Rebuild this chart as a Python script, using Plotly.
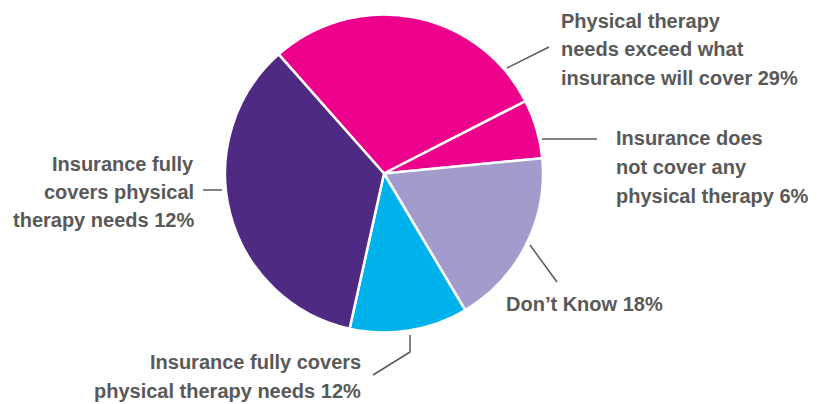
import plotly.graph_objects as go

# Survey responses on insurance coverage of physical therapy
categories = [
    "Physical therapy needs exceed what insurance will cover",
    "Insurance does not cover any physical therapy",
    "Don't Know",
    "Insurance fully covers physical therapy needs (partial)",
    "Insurance fully covers physical therapy needs",
]
values = [29, 6, 18, 12, 35]
colors = ["#EC008C", "#EC008C", "#A29BCB", "#00B2EC", "#4F2A82"]

# label text, one list of lines per slice
label_lines = [
    ["Physical therapy", "needs exceed what", "insurance will cover 29%"],
    ["Insurance does", "not cover any", "physical therapy 6%"],
    ["Don\u2019t Know 18%"],
    ["Insurance fully covers", "physical therapy needs 12%"],
    ["Insurance fully", "covers physical", "therapy needs 12%"],
]

W, H = 827, 404


def px(x):
    return x / W


def py(y):
    return 1 - y / H


fig = go.Figure(
    go.Pie(
        labels=categories,
        values=values,
        sort=False,
        direction="clockwise",
        rotation=-41.5,
        marker=dict(colors=colors, line=dict(color="white", width=2.5)),
        textinfo="none",
        hoverinfo="label+percent",
        showlegend=False,
        domain=dict(x=[px(225), px(543)], y=[py(332.5), py(14.5)]),
    )
)

font = dict(family="Liberation Sans, Arial, sans-serif", size=20, color="#595959")

# label block placement: (x, first line y, line step, xanchor)
placements = [
    (559, 20.5, 28.8, "left"),
    (614, 138, 28.8, "left"),
    (504, 304, 0, "left"),
    (363, 362, 28.5, "right"),
    (196, 163.5, 28, "right"),
]

annotations = []
for lines, (x, y0, step, xa) in zip(label_lines, placements):
    for i, line in enumerate(lines):
        annotations.append(dict(
            text="<b>" + line + "</b>",
            x=px(x), y=py(y0 + i * step), xref="paper", yref="paper",
            xanchor=xa, yanchor="middle", align=xa,
            showarrow=False, font=font,
        ))

# leader lines from slices to their labels
leaders = [
    [(507, 68), (549, 47)],
    [(542, 139), (597, 139)],
    [(530, 245), (557, 282)],
    [(410, 335), (410, 352), (373, 375)],
    [(203, 190), (222, 190)],
]
shapes = []
for pts in leaders:
    path = "M " + " L ".join(f"{px(x)},{py(y)}" for x, y in pts)
    shapes.append(dict(type="path", path=path, xref="paper", yref="paper",
                       line=dict(color="#595959", width=1.5)))

fig.update_layout(
    width=W, height=H, autosize=False,
    margin=dict(l=0, r=0, t=0, b=0),
    paper_bgcolor="white", plot_bgcolor="white",
    annotations=annotations, shapes=shapes,
)

fig.write_html("out.html")
